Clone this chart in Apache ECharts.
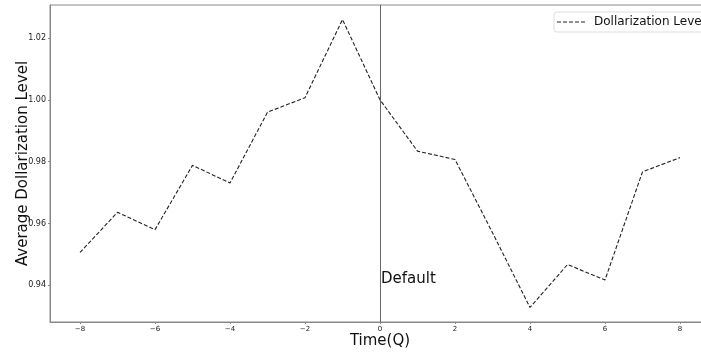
<!DOCTYPE html>
<html>
<head>
<meta charset="utf-8">
<script src="https://cdn.jsdelivr.net/npm/echarts@6/dist/echarts.min.js"></script>
<style>
  html, body { margin: 0; padding: 0; background: #fff; }
  #chart { width: 701px; height: 353px; }
</style>
</head>
<body>
<div id="chart"></div>
<script>
// Data
const quarters = [-8, -7, -6, -5, -4, -3, -2, -1, 0, 1, 2, 3, 4, 5, 6, 7, 8];
const dollarization = [0.9506, 0.9636, 0.9580, 0.9788, 0.9731, 0.9960, 1.0007, 1.0260, 1.0000,
                       0.9834, 0.9807, 0.9570, 0.9328, 0.9467, 0.9417, 0.9767, 0.9813];
const xTicks = [-8, -6, -4, -2, 0, 2, 4, 6, 8];
const yTicks = [0.94, 0.96, 0.98, 1.00, 1.02];
const seriesName = 'Dollarization Level';
const eventQuarter = 0;
const eventLabel = 'Default';
const eventLabelLevel = 0.942;

const chart = echarts.init(document.getElementById('chart'), null, { renderer: 'canvas' });
const font = 'DejaVu Sans';
const dashIcon = 'path://M0,0h4v1h-4z M6,0h4v1h-4z M12,0h4v1h-4z M18,0h4v1h-4z M24,0h4v1h-4z';

chart.setOption({
  animation: false,
  backgroundColor: '#fff',
  textStyle: { fontFamily: font },
  grid: {
    left: 50, top: 5, width: 660, height: 317,
    containLabel: false,
    outerBoundsMode: 'none',
    show: true, borderColor: '#888', borderWidth: 1, backgroundColor: 'transparent'
  },
  legend: {
    show: true,
    data: [{ name: seriesName, icon: dashIcon }],
    left: 554, top: 12,
    padding: [4, 6, 4, 3],
    itemWidth: 28, itemHeight: 1.3, itemGap: 6,
    itemStyle: { color: '#222' },
    backgroundColor: '#fff',
    borderColor: '#ddd', borderWidth: 1, borderRadius: 3,
    textStyle: { fontFamily: font, fontSize: 12, color: '#111', padding: [0, 0, 0, 4] }
  },
  xAxis: {
    type: 'value',
    min: -8.8, max: 8.8,
    name: 'Time(Q)',
    nameLocation: 'middle',
    nameGap: 12,
    nameMoveOverlap: false,
    nameTextStyle: { fontFamily: font, fontSize: 15, color: '#111' },
    axisLine: { show: true, onZero: false, lineStyle: { color: '#888', width: 1 } },
    axisTick: { show: true, length: 2, lineStyle: { color: '#888' }, customValues: xTicks },
    axisLabel: {
      fontFamily: font, fontSize: 7, color: '#222', margin: 4,
      customValues: xTicks,
      formatter: v => (v < 0 ? '\u2212' + Math.abs(v) : String(v))
    },
    splitLine: { show: false }
  },
  yAxis: {
    type: 'value',
    min: 0.9281, max: 1.0307,
    name: 'Average Dollarization Level',
    nameLocation: 'middle',
    nameGap: 19,
    nameRotate: 90,
    nameMoveOverlap: false,
    nameTextStyle: { fontFamily: font, fontSize: 15, color: '#111' },
    axisLine: { show: true, onZero: false, lineStyle: { color: '#888', width: 1 } },
    axisTick: { show: true, length: 2, lineStyle: { color: '#888' }, customValues: yTicks },
    axisLabel: {
      fontFamily: font, fontSize: 8, color: '#222', margin: 4,
      customValues: yTicks,
      formatter: v => v.toFixed(2)
    },
    splitLine: { show: false }
  },
  series: [{
    name: seriesName,
    type: 'line',
    data: quarters.map((q, i) => [q, dollarization[i]]),
    symbol: 'none',
    showSymbol: false,
    lineStyle: { color: '#222', width: 1.1, type: [4, 2] },
    itemStyle: { color: '#222' },
    markLine: {
      silent: true,
      symbol: 'none',
      label: { show: false },
      lineStyle: { color: '#666', width: 1, type: 'solid' },
      data: [{ xAxis: eventQuarter }]
    },
    markPoint: {
      silent: true,
      symbol: 'circle',
      symbolSize: 0,
      data: [{
        coord: [eventQuarter, eventLabelLevel],
        label: {
          show: true, position: 'right', distance: 1,
          formatter: eventLabel,
          fontFamily: font, fontSize: 15, color: '#111'
        }
      }]
    }
  }]
});
</script>
</body>
</html>
